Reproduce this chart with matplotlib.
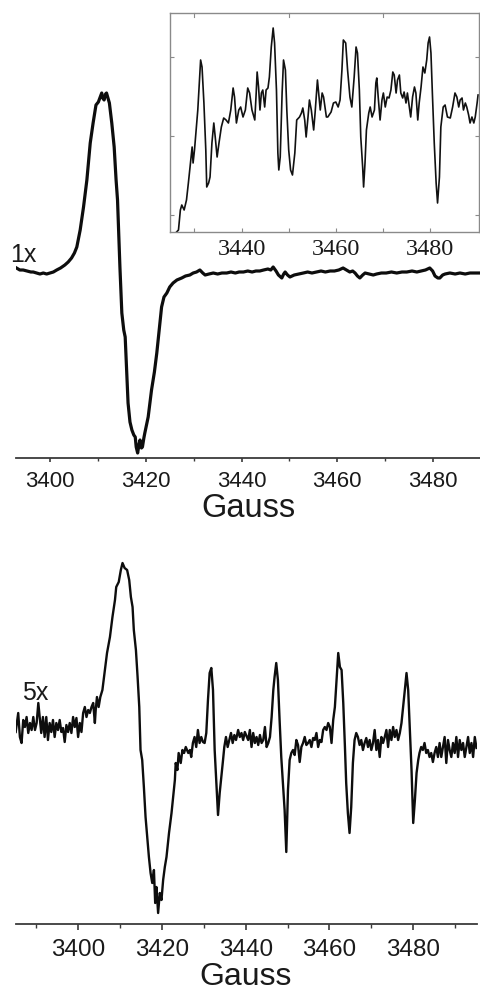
import matplotlib
matplotlib.use("Agg")
import matplotlib.pyplot as plt
from matplotlib.ticker import MultipleLocator, FixedLocator, NullFormatter

# ---------------- data ----------------
# Top panel: 1x spectrum (field in Gauss, signal in arbitrary units)
top_field = [3393.0, 3393.7, 3394.4, 3395.2, 3396.0, 3396.5, 3397.2, 3397.9, 3398.6, 3399.3,
             3400.0, 3400.7, 3401.4, 3402.2, 3403.1, 3403.8, 3404.5, 3405.1, 3405.6, 3406.3,
             3407.0, 3407.7, 3408.4, 3409.0, 3409.6, 3410.1, 3410.5, 3410.8, 3411.0, 3411.3,
             3411.6, 3411.8, 3412.1, 3412.4, 3412.9, 3413.4, 3413.8, 3414.1, 3414.3, 3414.6,
             3415.0, 3415.4, 3415.7, 3416.0, 3416.3, 3416.7, 3417.1, 3417.5, 3417.8, 3418.0,
             3418.3, 3418.6, 3418.8, 3419.1, 3419.3, 3419.6, 3419.8, 3420.2, 3420.5, 3421.2,
             3421.8, 3422.3, 3422.8, 3423.3, 3423.8, 3424.4, 3425.0, 3425.7, 3426.5, 3427.5,
             3428.3, 3429.2, 3429.9, 3430.6, 3431.3, 3431.9, 3432.4, 3433.2, 3434.1, 3435.0,
             3435.9, 3436.9, 3437.8, 3438.7, 3439.5, 3440.4, 3441.3, 3442.2, 3443.0, 3443.8,
             3444.6, 3445.5, 3446.1, 3446.6, 3447.2, 3447.7, 3448.4, 3448.8, 3449.1, 3449.6,
             3450.1, 3451.0, 3452.0, 3452.9, 3453.8, 3454.7, 3455.7, 3456.6, 3457.5, 3458.5,
             3459.4, 3460.3, 3461.2, 3461.9, 3462.6, 3463.2, 3463.7, 3464.2, 3464.7, 3465.3,
             3465.8, 3466.7, 3467.5, 3468.2, 3469.2, 3470.2, 3471.3, 3472.4, 3473.5, 3474.5,
             3475.6, 3476.6, 3477.5, 3478.4, 3479.3, 3479.9, 3480.4, 3481.0, 3481.4, 3482.0,
             3482.5, 3483.5, 3484.6, 3485.6, 3486.7, 3487.7, 3488.8, 3489.8]
top_signal = [4, 2, 2, 1, 0, 0, -1, -2, -1, -2,
              -1, 0, 2, 4, 7, 10, 14, 19, 25, 42,
              65, 92, 129, 149, 167, 170, 175, 179, 174, 172,
              178, 179, 174, 169, 149, 125, 92, 72, 45, 5,
              -41, -58, -65, -98, -131, -150, -158, -163, -165, -175,
              -181, -172, -168, -176, -175, -166, -161, -152, -145, -118,
              -100, -81, -58, -35, -25, -21, -15, -11, -8, -6,
              -4, -3, -1, 0, 2, -1, -3, -2, -1, -2,
              -1, -1, 0, -1, 0, 0, 1, 0, 1, 1,
              2, 3, 2, 5, 1, -3, -6, -2, 0, -3,
              -5, -3, -2, -1, 0, -1, 0, 1, 0, 1,
              1, 2, 4, 2, 0, 1, -1, -4, -6, -3,
              -1, -2, -3, -2, -1, -1, 0, -1, 0, 0,
              1, 0, 1, 2, 4, 1, -4, -6, -6, -3,
              -2, -1, -2, -1, -2, -1, -1, -1]

# Inset: expanded view of the 1x spectrum
inset_field = [3424.8, 3426.0, 3426.6, 3427.0, 3427.3, 3427.8, 3428.3, 3428.7, 3429.2, 3429.5,
               3429.7, 3430.0, 3430.4, 3430.7, 3431.1, 3431.3, 3431.6, 3432.0, 3432.4, 3432.6,
               3433.0, 3433.3, 3433.7, 3434.1, 3434.4, 3434.8, 3435.2, 3435.7, 3436.2, 3436.7,
               3437.2, 3437.7, 3438.2, 3438.5, 3438.9, 3439.4, 3439.8, 3440.3, 3440.8, 3441.3,
               3441.7, 3442.2, 3442.8, 3443.1, 3443.3, 3443.6, 3443.9, 3444.2, 3444.5, 3444.9,
               3445.2, 3445.6, 3445.9, 3446.3, 3446.7, 3447.0, 3447.4, 3447.7, 3447.9, 3448.2,
               3448.6, 3448.9, 3449.3, 3449.6, 3450.0, 3450.4, 3450.8, 3451.3, 3451.7, 3452.3,
               3452.7, 3453.0, 3453.4, 3453.7, 3454.1, 3454.4, 3454.8, 3455.3, 3455.6, 3456.1,
               3456.3, 3456.7, 3457.1, 3457.4, 3458.0, 3458.3, 3459.0, 3459.5, 3460.0, 3460.5,
               3460.9, 3461.3, 3461.6, 3462.1, 3462.5, 3463.0, 3463.4, 3463.9, 3464.3, 3464.6,
               3465.0, 3465.3, 3465.7, 3465.9, 3466.2, 3466.5, 3467.0, 3467.3, 3467.7, 3468.2,
               3468.5, 3468.7, 3469.0, 3469.4, 3469.8, 3470.1, 3470.5, 3470.9, 3471.3, 3471.7,
               3472.1, 3472.4, 3472.8, 3473.1, 3473.5, 3473.8, 3474.2, 3474.5, 3474.9, 3475.2,
               3475.6, 3475.9, 3476.3, 3476.7, 3477.0, 3477.4, 3477.7, 3478.1, 3478.5, 3478.9,
               3479.3, 3479.6, 3479.9, 3480.2, 3480.5, 3480.9, 3481.3, 3481.6, 3482.0, 3482.3,
               3482.8, 3483.2, 3483.7, 3484.3, 3484.8, 3485.3, 3485.7, 3486.1, 3486.4, 3486.8,
               3487.1, 3487.5, 3487.8, 3488.2, 3488.5, 3488.9, 3489.3, 3489.6, 3490.0, 3490.2]
inset_signal = [-2, -1, 2, 22, 27, 22, 32, 49, 72, 85,
                69, 82, 105, 122, 155, 172, 165, 129, 82, 45,
                49, 55, 89, 109, 95, 75, 89, 105, 114, 112,
                109, 122, 144, 135, 109, 122, 125, 115, 122, 144,
                139, 122, 112, 139, 160, 145, 122, 139, 142, 125,
                142, 144, 155, 185, 204, 189, 142, 79, 62, 75,
                139, 172, 162, 122, 82, 62, 57, 79, 112, 115,
                119, 124, 112, 95, 115, 132, 122, 102, 119, 152,
                142, 122, 139, 135, 115, 115, 120, 129, 130, 125,
                132, 162, 192, 189, 162, 135, 125, 155, 185, 179,
                142, 95, 65, 45, 69, 102, 119, 125, 115, 122,
                149, 154, 135, 112, 132, 139, 125, 135, 134, 142,
                160, 157, 139, 152, 157, 139, 134, 140, 129, 139,
                125, 115, 135, 145, 139, 112, 129, 145, 165, 159,
                172, 189, 195, 179, 139, 89, 49, 29, 55, 105,
                125, 127, 115, 114, 125, 139, 135, 125, 132, 134,
                122, 129, 125, 117, 109, 115, 109, 115, 129, 137]

# Bottom panel: 5x spectrum
bottom_field = [3385.1, 3385.7, 3386.1, 3386.5, 3386.9, 3387.3, 3387.7, 3388.1, 3388.5, 3388.9,
                3389.3, 3389.7, 3390.1, 3390.5, 3390.9, 3391.2, 3391.6, 3392.0, 3392.4, 3392.8,
                3393.2, 3393.6, 3394.0, 3394.4, 3394.8, 3395.2, 3395.6, 3396.0, 3396.4, 3396.8,
                3397.2, 3397.6, 3398.0, 3398.4, 3398.8, 3399.2, 3399.6, 3400.0, 3400.4, 3400.8,
                3401.2, 3401.6, 3402.0, 3402.4, 3402.8, 3403.2, 3403.6, 3404.0, 3404.2, 3404.5,
                3404.9, 3405.3, 3405.8, 3406.4, 3406.9, 3407.6, 3408.2, 3408.8, 3409.1, 3409.7,
                3410.2, 3410.6, 3411.1, 3411.7, 3412.2, 3412.6, 3413.0, 3413.3, 3413.8, 3414.2,
                3414.6, 3414.9, 3415.3, 3415.7, 3416.1, 3416.5, 3416.9, 3417.3, 3417.7, 3418.1,
                3418.4, 3418.7, 3419.1, 3419.5, 3419.9, 3420.3, 3420.7, 3421.1, 3421.7, 3422.3,
                3422.7, 3423.1, 3423.3, 3423.7, 3424.0, 3424.5, 3424.9, 3425.3, 3425.7, 3426.3,
                3426.7, 3427.0, 3427.4, 3427.8, 3428.2, 3428.6, 3429.0, 3429.4, 3429.8, 3430.2,
                3430.6, 3431.0, 3431.4, 3431.8, 3432.2, 3432.6, 3433.0, 3433.4, 3433.8, 3434.2,
                3434.6, 3434.9, 3435.3, 3435.7, 3436.1, 3436.5, 3436.9, 3437.3, 3437.7, 3438.2,
                3438.6, 3439.0, 3439.4, 3439.8, 3440.3, 3440.6, 3441.0, 3441.4, 3441.8, 3442.2,
                3442.6, 3443.0, 3443.4, 3443.8, 3444.2, 3444.6, 3445.0, 3445.4, 3445.8, 3446.2,
                3446.6, 3446.9, 3447.3, 3447.7, 3448.1, 3448.5, 3448.9, 3449.3, 3449.7, 3450.1,
                3450.5, 3450.9, 3451.3, 3451.7, 3452.1, 3452.5, 3452.9, 3453.3, 3453.7, 3454.1,
                3454.5, 3454.9, 3455.3, 3455.7, 3456.1, 3456.5, 3456.9, 3457.3, 3457.7, 3458.1,
                3458.5, 3458.9, 3459.3, 3459.7, 3460.1, 3460.5, 3460.9, 3461.3, 3461.7, 3462.1,
                3462.5, 3462.9, 3463.3, 3463.7, 3464.0, 3464.4, 3464.8, 3465.2, 3465.6, 3466.0,
                3466.4, 3466.8, 3467.2, 3467.6, 3468.0, 3468.4, 3468.8, 3469.2, 3469.6, 3470.0,
                3470.4, 3470.8, 3471.2, 3471.6, 3472.0, 3472.4, 3472.8, 3473.2, 3473.6, 3474.0,
                3474.4, 3474.8, 3475.2, 3475.6, 3476.0, 3476.4, 3476.8, 3477.2, 3477.6, 3478.0,
                3478.4, 3478.8, 3479.2, 3479.6, 3480.0, 3480.4, 3480.8, 3481.2, 3481.5, 3481.9,
                3482.3, 3482.7, 3483.1, 3483.5, 3483.9, 3484.3, 3484.7, 3485.1, 3485.5, 3485.9,
                3486.3, 3486.7, 3487.1, 3487.5, 3487.9, 3488.3, 3488.7, 3489.1, 3489.5, 3489.9,
                3490.3, 3490.7, 3491.1, 3491.5, 3491.9, 3492.3, 3492.7, 3493.1, 3493.5, 3493.9,
                3494.3, 3494.7, 3495.1]
bottom_signal = [-4, 15, -9, -15, 8, 1, 11, -5, 5, -2,
                 11, -2, 5, 25, 8, -5, 11, -9, 11, -12,
                 5, -4, 8, -9, 5, -2, 8, -4, 0, -14,
                 3, -4, 5, -5, 11, 1, 10, -9, 5, -4,
                 15, 21, 11, 18, 15, 21, 25, 5, 18, 31,
                 21, 31, 38, 58, 75, 91, 111, 128, 141, 146,
                 158, 165, 160, 158, 148, 131, 121, 98, 78, 51,
                 21, -22, -32, -59, -89, -109, -129, -145, -155, -142,
                 -175, -159, -185, -165, -172, -152, -139, -129, -105, -85,
                 -69, -52, -35, -42, -25, -35, -22, -25, -19, -25,
                 -22, -29, -15, -9, -19, -2, -15, -9, -14, -15,
                 -5, 28, 55, 60, 38, -22, -55, -87, -65, -49,
                 -32, -19, -9, -19, -12, -5, -15, -7, -12, -2,
                 -9, -5, -12, -4, -9, -12, -2, -19, -5, -15,
                 -9, -17, -7, -15, -12, 1, -19, -15, -9, 11,
                 38, 51, 65, 48, 8, -29, -55, -82, -124, -62,
                 -32, -25, -22, -27, -12, -17, -34, -19, -15, -9,
                 -17, -15, -12, -19, -10, -12, -5, -19, -12, -14,
                 -2, 1, -2, 5, 1, -15, 8, 21, 48, 75,
                 61, 58, 25, -19, -55, -85, -105, -79, -35, -12,
                 -5, -9, -17, -12, -22, -15, -10, -19, -12, -22,
                 -15, -2, -22, -12, -29, -9, -15, -9, -2, -19,
                 -2, -12, 1, -9, -2, -12, -5, 5, 21, 38,
                 55, 38, -2, -42, -95, -72, -45, -32, -25, -19,
                 -22, -15, -25, -22, -29, -25, -34, -25, -19, -29,
                 -15, -29, -19, -9, -35, -12, -22, -29, -15, -25,
                 -9, -29, -12, -22, -15, -29, -19, -9, -25, -15,
                 -29, -9, -20]

top_major_ticks = [3400, 3420, 3440, 3460, 3480]
bottom_major_ticks = [3400, 3420, 3440, 3460, 3480]
inset_major_ticks = [3440, 3460, 3480]
inset_minor_ticks = [3430, 3450, 3470]
inset_y_ticks = [17, 96, 175]
top_label = "1x"
bottom_label = "5x"
x_label = "Gauss"

# ---------------- figure ----------------
W, H = 481, 991
plt.rcParams['font.family'] = ['Liberation Sans', 'DejaVu Sans']
fig = plt.figure(figsize=(W / 100, H / 100), dpi=100)

def box(l, t, r, b):
    return [l / W, 1 - b / H, (r - l) / W, (b - t) / H]

line_col = '#0d0d0d'
spine_col = '#3a3a3a'

# Top main axes
ax1 = fig.add_axes(box(16, 60, 481, 458))
ax1.plot(top_field, top_signal, color=line_col, lw=2.3, solid_joinstyle='round')
ax1.set_xlim(3392.9, 3490.0)
ax1.set_ylim(-186, 212)

# Bottom main axes
ax2 = fig.add_axes(box(15.7, 540, 477.3, 924))
ax2.plot(bottom_field, bottom_signal, color=line_col, lw=1.7, solid_joinstyle='round')
ax2.set_xlim(3385.1, 3495.3)
ax2.set_ylim(-196, 188)

for ax, fs, maj, mn, pad in ((ax1, 16, 3.0, 1.8, 6.5), (ax2, 17.5, 4.0, 2.8, 6.5)):
    for s in ('top', 'right', 'left'):
        ax.spines[s].set_visible(False)
    ax.spines['bottom'].set_color(spine_col)
    ax.spines['bottom'].set_linewidth(1.3)
    ax.set_yticks([])
    ax.xaxis.set_major_locator(FixedLocator(top_major_ticks if ax is ax1 else bottom_major_ticks))
    ax.xaxis.set_minor_locator(MultipleLocator(10))
    ax.tick_params(axis='x', which='major', direction='out', length=maj, width=1.2,
                   color=spine_col, labelsize=fs, pad=pad, labelcolor='#1a1a1a')
    ax.tick_params(axis='x', which='minor', direction='out', length=mn, width=1.0, color=spine_col)
    ax.patch.set_alpha(0)

# Inset
ax3 = fig.add_axes(box(170, 13, 479, 232))
ax3.set_zorder(5)
ax3.plot(inset_field, inset_signal, color='#111111', lw=1.2, solid_joinstyle='round')
ax3.set_xlim(3424.8, 3490.4)
ax3.set_ylim(0, 219)
for s in ax3.spines.values():
    s.set_color('#8a8a8a')
    s.set_linewidth(1.0)
ax3.xaxis.set_major_locator(FixedLocator(inset_major_ticks))
ax3.xaxis.set_minor_locator(FixedLocator(inset_minor_ticks))
ax3.set_yticks(inset_y_ticks)
ax3.yaxis.set_major_formatter(NullFormatter())
ax3.tick_params(axis='x', which='both', direction='in', length=3, width=0.8, color='#8a8a8a',
                top=False, labelsize=17.5, pad=5, labelcolor='#1a1a1a',
                labelfontfamily='Liberation Serif')
ax3.tick_params(axis='y', which='both', direction='in', length=3, width=0.8, color='#8a8a8a',
                left=True, right=True)
# top ticks only at the minor positions
for xv in inset_minor_ticks:
    ax3.plot([xv, xv], [219, 215.5], color='#8a8a8a', lw=0.8, clip_on=False)

# Labels
fig.text(10 / W, 1 - 262 / H, top_label, fontsize=18, ha='left', va='baseline', color='#1a1a1a')
fig.text(22.5 / W, 1 - 700 / H, bottom_label, fontsize=18, ha='left', va='baseline', color='#1a1a1a')
fig.text(248 / W, 1 - 517 / H, x_label, fontsize=23.5, ha='center', va='baseline', color='#1a1a1a')
fig.text(246 / W, 1 - 985 / H, x_label, fontsize=23, ha='center', va='baseline', color='#1a1a1a')

fig.savefig('out.png', dpi=100, facecolor='white')
